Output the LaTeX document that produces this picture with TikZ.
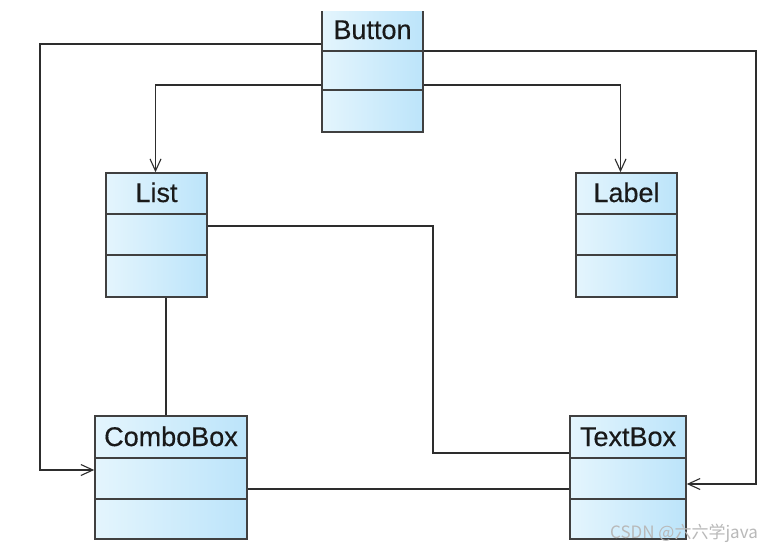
\documentclass[tikz,border=0pt]{standalone}
\usepackage{fontspec}
\setmainfont{Liberation Sans}
\newfontfamily\titlefont{Liberation Sans}[FakeBold=0.4]
\newfontfamily\cjk{Noto Sans CJK SC}
\usetikzlibrary{arrows.meta,fit}
\definecolor{lineC}{RGB}{45,45,45}
\definecolor{boxL}{RGB}{228,245,253}
\definecolor{boxD}{RGB}{188,228,250}
\tikzset{
  conn/.style={draw=lineC, line width=1.4pt},
  arr/.style={conn, -{Straight Barb[length=12pt,width=11pt,line width=1.1pt]}},
  frame/.style={draw=black!75, line width=1.6pt, rectangle, inner sep=0pt},
  sepline/.style={draw=black!75, line width=1.5pt},
  title/.style={font=\titlefont\fontsize{27}{30}\selectfont, anchor=base, text=black!90, inner sep=0pt},
  wmark/.style={font=\cjk\fontsize{17}{20}\selectfont, text=gray!55, anchor=base east, inner sep=0pt},
}
\newcommand\umlbox[8]{%
  \shade[left color=boxL,right color=boxD] (#2,-#3) rectangle (#4,-#6);
  \shade[left color=boxL,right color=boxD] (#2,-#6) rectangle (#4,-#7);
  \shade[left color=boxL,right color=boxD] (#2,-#7) rectangle (#4,-#5);
  \node[frame, fit={(#2,-#3) (#4,-#5)}] (#1) {};
  \draw[sepline] (#1.west |- 0,-#6) -- (#1.east |- 0,-#6);
  \draw[sepline] (#1.west |- 0,-#7) -- (#1.east |- 0,-#7);
  \path (#1.north |- 0,-#6) ++(0,12) node[title] (#1-t) {#8};
}
\begin{document}
\begin{tikzpicture}[x=1pt,y=1pt]
\useasboundingbox (0,0) rectangle (773,-552);
\fill[white] (0,0) rectangle (773,-552);
\clip (0,-11) rectangle (773,-552);
\umlbox{button}{322}{0}{423}{132}{51}{90}{Button}
\umlbox{list}{106}{173}{207}{297}{214}{255}{List}
\umlbox{label}{576}{173}{677}{297}{214}{255}{Label}
\umlbox{combo}{95}{416}{247}{539}{458}{499}{ComboBox}
\umlbox{textbox}{570}{416}{686}{539}{458}{499}{TextBox}
% connectors
\draw[arr] (button.west |- 0,-44) -| (40,-470) -- (combo.west |- 0,-470);
\draw[arr] (button.west |- 0,-85) -| ([xshift=-1pt]list.north);
\draw[arr] (button.east |- 0,-51) -| (756,-484) -- (textbox.east |- 0,-484);
\draw[arr] (button.east |- 0,-85) -| ([xshift=-6pt]label.north);
\draw[conn] (list.east |- 0,-226) -| (433,-453) -- (textbox.west |- 0,-453);
\draw[conn] (list.south -| 166,0) -- (combo.north -| 166,0);
\draw[conn] (combo.east |- 0,-489) -- (textbox.west |- 0,-489);
\node[wmark] (wm) at (758,-538) {CSDN @六六学java};
\end{tikzpicture}
\end{document}
